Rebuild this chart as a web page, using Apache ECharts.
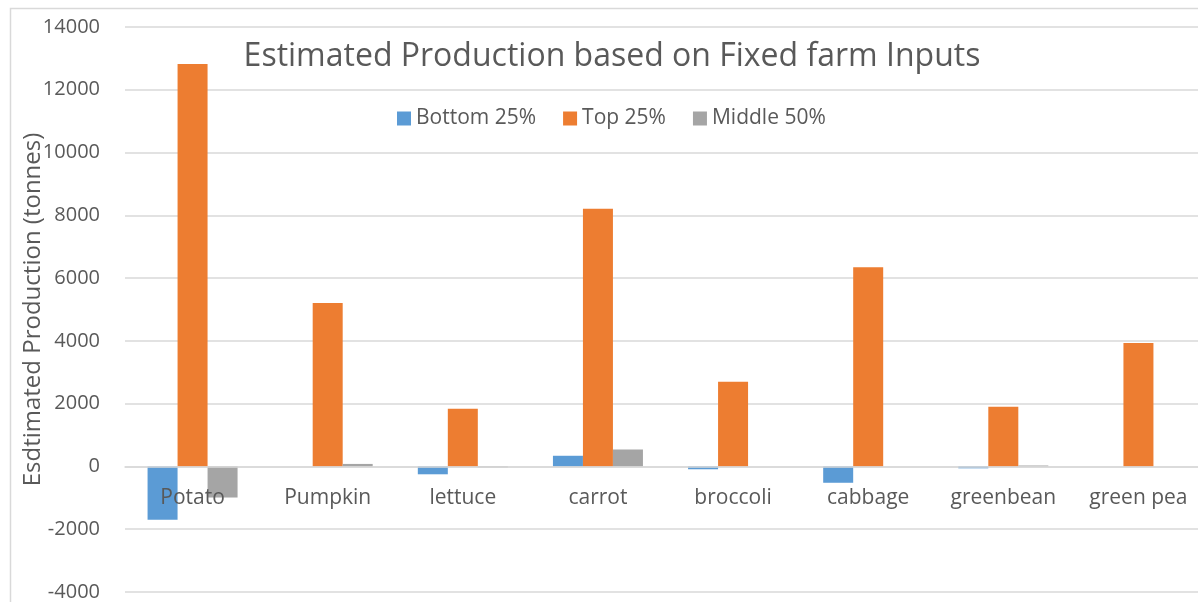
<!DOCTYPE html>
<html>
<head>
<meta charset="utf-8">
<script src="https://cdn.jsdelivr.net/npm/echarts@6/dist/echarts.min.js"></script>
<style>
  html, body { margin: 0; padding: 0; background: #fff; overflow: hidden; }
  #chart { position: absolute; left: 0; top: 0; width: 1206px; height: 602px; }
</style>
</head>
<body>
<div id="chart"></div>
<script>
// Crops along the category axis
const categories = ['Potato', 'Pumpkin', 'lettuce', 'carrot', 'broccoli', 'cabbage', 'greenbean', 'green pea'];

// Estimated production (tonnes) per farm group
const bottom25 = [-1700, 0, -250, 340, -90, -520, -60, 0];
const top25    = [12820, 5210, 1840, 8210, 2700, 6350, 1900, 3930];
const middle50 = [-990, 80, -30, 540, 0, 0, 30, 0];

// Value axis range and step
const yMin = -4000;
const yMax = 14000;
const yStep = 2000;

const textColor = '#595959';
const gridColor = '#d9d9d9';
const fontFamily = '"Open Sans", "Liberation Sans", sans-serif';

// Plot box
const gridTop = 27;
const gridBottom = 10;
const chartHeight = 602;
const plotHeight = chartHeight - gridTop - gridBottom;
// Category axis sits on the zero line of the value axis
const zeroOffset = -plotHeight * (0 - yMin) / (yMax - yMin);

const chart = echarts.init(document.getElementById('chart'), null, { renderer: 'canvas' });

const barBase = { type: 'bar', barWidth: 30, barGap: '0%' };

chart.setOption({
  animation: false,
  backgroundColor: '#ffffff',
  textStyle: { fontFamily: fontFamily },
  title: {
    text: 'Estimated Production based on Fixed farm Inputs',
    left: 607,
    top: 36,
    textAlign: 'center',
    textStyle: { fontFamily: fontFamily, fontSize: 32, fontWeight: 'normal', color: textColor }
  },
  legend: {
    data: ['Bottom 25%', 'Top 25%', 'Middle 50%'],
    left: 397,
    top: 108,
    padding: 0,
    itemWidth: 14,
    itemHeight: 14,
    itemGap: 27,
    icon: 'rect',
    textStyle: { fontFamily: fontFamily, fontSize: 21, color: textColor }
  },
  graphic: [{
    type: 'rect',
    shape: { x: 10.5, y: 8.5, width: 1400, height: 800 },
    style: { fill: 'none', stroke: gridColor, lineWidth: 1.5 },
    silent: true,
    z: -10
  }],
  grid: { left: 125, right: 0, top: gridTop, bottom: gridBottom, containLabel: false, outerBoundsMode: 'none' },
  xAxis: {
    type: 'category',
    data: categories,
    position: 'bottom',
    offset: zeroOffset,
    z: 5,
    axisLine: { show: true, onZero: false, lineStyle: { color: gridColor, width: 1.5 } },
    axisTick: { show: false },
    axisLabel: { color: textColor, fontSize: 21, margin: 21, interval: 0, fontFamily: fontFamily },
    splitLine: { show: false }
  },
  yAxis: {
    type: 'value',
    min: yMin,
    max: yMax,
    interval: yStep,
    name: 'Esdtimated Production (tonnes)',
    nameLocation: 'middle',
    nameGap: 80,
    nameMoveOverlap: false,
    nameTextStyle: { color: textColor, fontSize: 24, fontFamily: fontFamily },
    axisLine: { show: false },
    axisTick: { show: false },
    axisLabel: { color: textColor, fontSize: 20, margin: 25, fontFamily: fontFamily, formatter: (v) => String(v) },
    splitLine: { show: true, lineStyle: { color: gridColor, width: 1.5 } }
  },
  series: [
    Object.assign({}, barBase, { name: 'Bottom 25%', data: bottom25, itemStyle: { color: '#5B9BD5' } }),
    Object.assign({}, barBase, { name: 'Top 25%', data: top25, itemStyle: { color: '#ED7D31' } }),
    Object.assign({}, barBase, { name: 'Middle 50%', data: middle50, itemStyle: { color: '#A5A5A5' } })
  ]
});
</script>
</body>
</html>
